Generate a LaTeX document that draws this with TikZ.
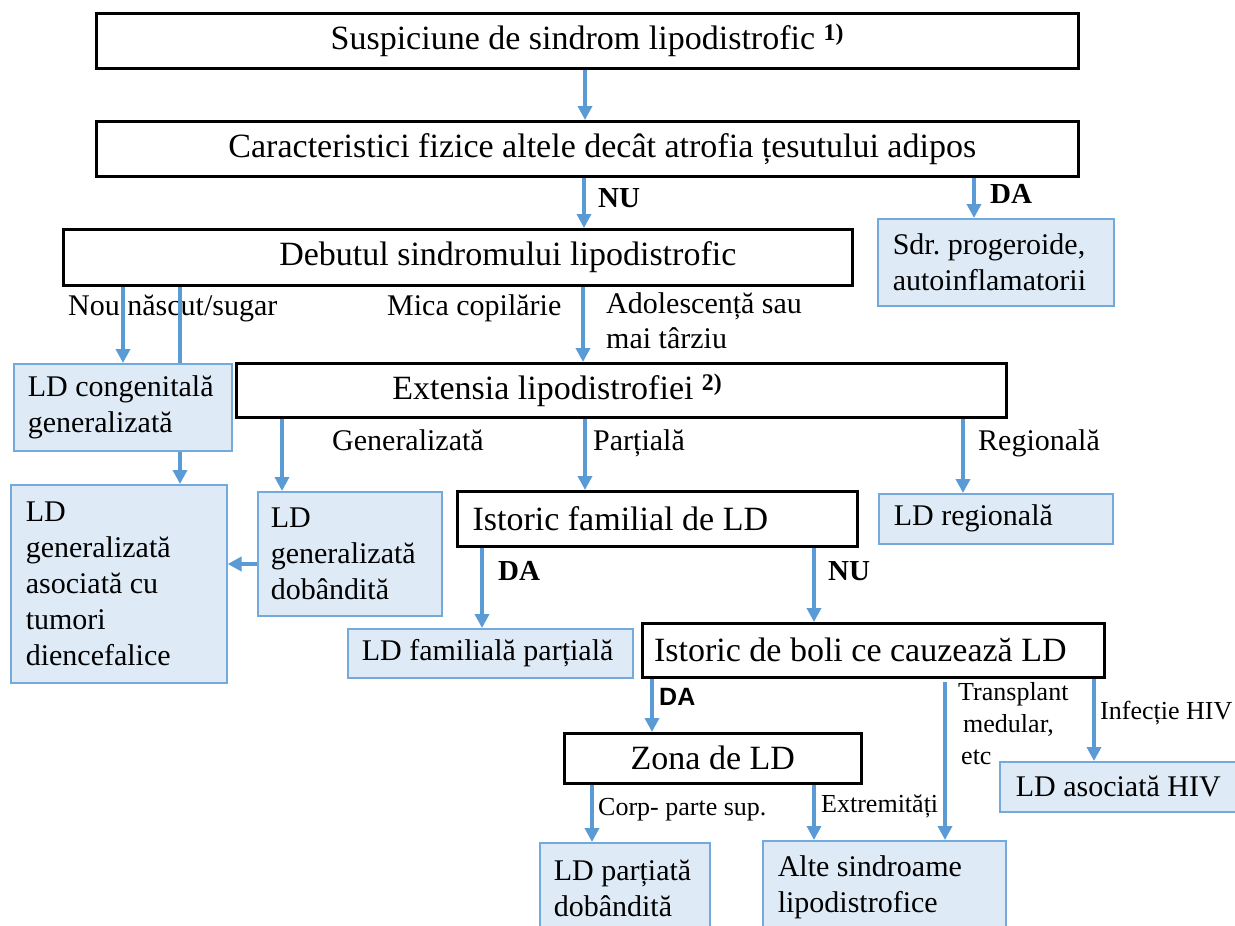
\documentclass[tikz,border=0pt]{standalone}
\usepackage{fontspec}
\setmainfont{Liberation Serif}
\newfontfamily\arialfont{Liberation Sans}
\usetikzlibrary{arrows.meta}
\definecolor{flowblue}{HTML}{5B9BD5}
\definecolor{leafblue}{HTML}{DEEBF7}
\frenchspacing
\begin{document}
\begin{tikzpicture}[x=1pt,y=-1pt,
  question/.style={draw=black,line width=2.6pt,fill=white,anchor=north west,inner sep=0pt,font=\fontsize{34}{40}\selectfont},
  leaf/.style={draw=flowblue!85,line width=1.6pt,fill=leafblue,anchor=north west,inner ysep=0pt,align=flush left,font=\fontsize{30}{36}\selectfont},
  flow/.style={draw=flowblue,line width=3.8pt,-{Triangle[length=14pt,width=14pt]}},
  flowline/.style={draw=flowblue,line width=3.8pt},
  lbl/.style={anchor=base west,inner sep=0pt,font=\fontsize{30}{30}\selectfont},
  small/.style={anchor=base west,inner sep=0pt,font=\fontsize{26}{26}\selectfont},
  yesno/.style={anchor=base west,inner sep=0pt,font=\fontsize{29}{29}\bfseries\selectfont}]
  \useasboundingbox (0,0) rectangle (1235,926);
  \node[question,minimum width=982,minimum height=55] (susp) at (95,12) {Suspiciune de sindrom lipodistrofic \textsuperscript{\bfseries 1)}};
  \node[question,minimum width=982,minimum height=55] (caract) at (95,120) {\hspace*{30pt}Caracteristici fizice altele decât atrofia țesutului adipos};
  \node[question,minimum width=789,minimum height=56] (debut) at (62,228) {\hspace*{100pt}Debutul sindromului lipodistrofic};
  \node[leaf,text width=206,inner xsep=15,minimum height=87] (progeroid) at (877,218) {Sdr. progeroide,\\autoinflamatorii};
  \node[leaf,text width=190,inner xsep=14,minimum height=87] (congen) at (13,363) {LD congenitală\\generalizată};
  \node[question,minimum width=770,minimum height=54] (extensie) at (235,362) {Extensia lipodistrofiei \textsuperscript{\bfseries 2)}\hspace*{128pt}};
  \node[leaf,text width=186,inner xsep=15,minimum height=198] (tumori) at (10,484) {LD\\generalizată\\asociată cu\\tumori\\diencefalice};
  \node[leaf,text width=158,inner xsep=13,minimum height=124] (dobandita) at (257,491) {LD\\generalizată\\dobândită};
  \node[question,minimum width=400,minimum height=55] (familial) at (456,490) {Istoric familial de LD\hspace*{74pt}};
  \node[leaf,text width=204,inner xsep=15,minimum height=50] (regionala) at (878,493) {LD regională};
  \node[leaf,text width=257,inner xsep=14,minimum height=49] (familiala) at (347,628) {LD familială parțială};
  \node[question,minimum width=462,minimum height=54] (boli) at (641,622) {Istoric de boli ce cauzează LD\hspace*{26pt}};
  \node[question,minimum width=297,minimum height=50] (zona) at (563,732) {Zona de LD};
  \node[leaf,text width=210,inner xsep=16,minimum height=50] (hiv) at (999,761) {LD asociată HIV};
  \node[leaf,text width=142,inner xsep=14,minimum height=92] (partiata) at (539,842) {LD parțiată\\dobândită};
  \node[leaf,text width=213,inner xsep=15,minimum height=92] (alte) at (762,840) {Alte sindroame\\lipodistrofice};

  \node[yesno] (nu1) at (598,207) {NU};
  \node[yesno] (da1) at (990,203) {DA};
  \node[lbl] (nou) at (68,315) {Nou născut/sugar};
  \node[lbl] (mica) at (387,315) {Mica copilărie};
  \node[lbl,align=left,anchor=north west,font=\fontsize{30}{35}\selectfont] (adol) at (606,292) {Adolescență sau\\mai târziu};
  \node[lbl] (gen) at (332,450) {Generalizată};
  \node[lbl] (part) at (593,450) {Parțială};
  \node[lbl] (reg) at (978,450) {Regională};
  \node[yesno] (da2) at (498,580) {DA};
  \node[yesno] (nu2) at (828,580) {NU};
  \node[yesno,font=\fontsize{25}{25}\arialfont\bfseries\selectfont] (da3) at (659,705) {DA};
  \node[small,align=left,anchor=north west,font=\fontsize{26}{32}\selectfont] (transpl) at (958,682) {Transplant\\\hspace*{5pt}medular,\\\hspace*{3pt}etc};
  \node[small] (infectie) at (1100,719) {Infecție HIV};
  \node[small] (corp) at (598,815) {Corp- parte sup.};
  \node[small] (extrem) at (821,812) {Extremități};

  \coordinate (tstart) at (945,682);
  \draw[flow] (585,0 |- susp.south) -- (585,0 |- caract.north);
  \draw[flow] (584,0 |- caract.south) -- (584,0 |- debut.north);
  \draw[flow] (974,0 |- caract.south) -- (974,0 |- progeroid.north);
  \draw[flow] (123,0 |- debut.south) -- (123,0 |- congen.north);
  \draw[flowline] (180,0 |- debut.south) -- (180,0 |- congen.north);
  \draw[flow] (180,0 |- congen.south) -- (180,0 |- tumori.north);
  \draw[flow] (583,0 |- debut.south) -- (583,0 |- extensie.north);
  \draw[flow] (282,0 |- extensie.south) -- (282,0 |- dobandita.north);
  \draw[flow] (585,0 |- extensie.south) -- (585,0 |- familial.north);
  \draw[flow] (963,0 |- extensie.south) -- (963,0 |- regionala.north);
  \draw[flow] (dobandita.west |- 0,564) -- (tumori.east |- 0,564);
  \draw[flow] (482,0 |- familial.south) -- (482,0 |- familiala.north);
  \draw[flow] (814,0 |- familial.south) -- (814,0 |- boli.north);
  \draw[flow] (652,0 |- boli.south) -- (652,0 |- zona.north);
  \draw[flow] (tstart) -- (tstart |- alte.north);
  \draw[flow] (1094,0 |- boli.south) -- (1094,0 |- hiv.north);
  \draw[flow] (592,0 |- zona.south) -- (592,0 |- partiata.north);
  \draw[flow] (814,0 |- zona.south) -- (814,0 |- alte.north);
\end{tikzpicture}
\end{document}
